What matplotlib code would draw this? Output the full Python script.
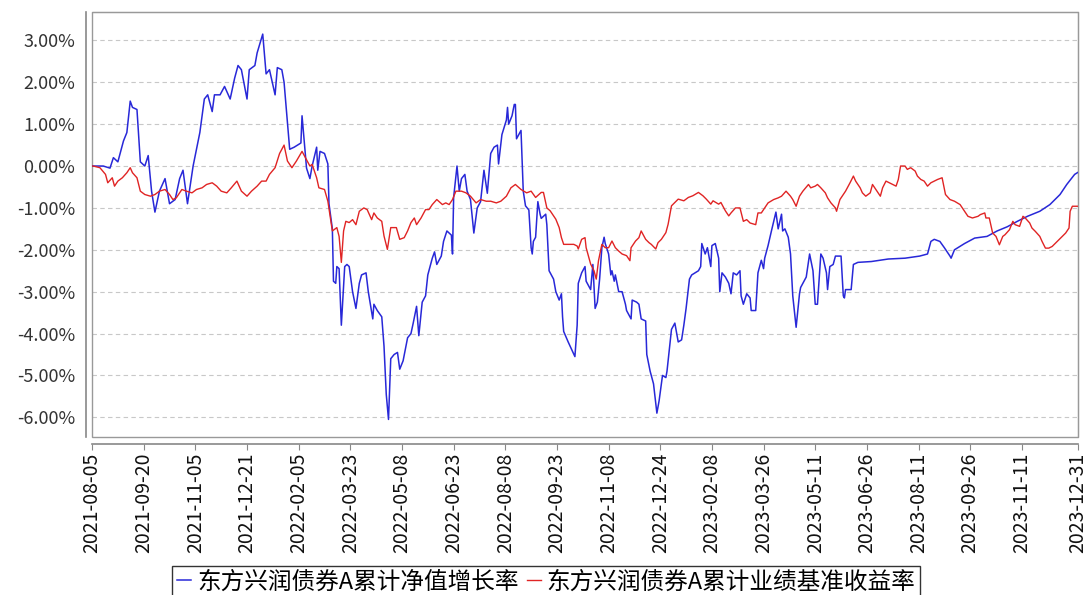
import numpy as np
import pandas as pd
import matplotlib
matplotlib.use("Agg")
import matplotlib.pyplot as plt
import matplotlib.dates as mdates
from matplotlib.ticker import FixedLocator
from matplotlib.patches import Rectangle

plt.rcParams['font.family'] = ['Noto Sans CJK SC', 'DejaVu Sans']

start = pd.Timestamp("2021-08-05")
end = pd.Timestamp("2023-12-31")

# --- datos (dias desde 2021-08-05, %) ---
blue_days = [0, 1, 10, 16, 19, 23, 28, 31, 34, 36, 40, 43, 47, 50, 53, 56, 60, 65, 69, 74,
             78, 81, 85, 90, 93, 96, 100, 103, 107, 109, 114, 118, 123, 127, 130, 133, 138, 140,
             145, 147, 152, 155, 158, 163, 165, 169, 171, 176, 180, 186, 187, 191, 194, 196, 200,
             201, 203, 207, 210, 211, 214, 215, 217, 218, 220, 222, 225, 227, 229, 232, 235, 238,
             240, 244, 246, 250, 251, 254, 258, 260, 262, 264, 266, 269, 272, 274, 277, 281, 284,
             286, 289, 291, 294, 297, 299, 303, 305, 307, 311, 313, 316, 320, 321, 322, 325, 327,
             329, 332, 334, 337, 340, 343, 346, 349, 352, 355, 358, 361, 362, 365, 369, 370, 371,
             374, 376, 377, 378, 382, 384, 386, 389, 391, 392, 393, 395, 397, 399, 400, 404, 405,
             407, 409, 411, 413, 416, 418, 419, 420, 424, 430, 432, 433, 436, 439, 440, 444, 446,
             448, 450, 452, 454, 456, 457, 460, 462, 463, 465, 466, 469, 472, 475, 476, 480, 481,
             485, 487, 489, 493, 494, 497, 500, 503, 505, 508, 511, 512, 516, 519, 522, 525, 527,
             529, 532, 534, 537, 540, 542, 543, 546, 548, 551, 552, 555, 558, 559, 561, 564, 567,
             569, 571, 574, 577, 578, 580, 583, 586, 587, 591, 593, 596, 598, 599, 602, 605, 609,
             611, 614, 615, 617, 620, 622, 624, 627, 630, 631, 636, 639, 642, 644, 646, 649, 651,
             654, 655, 657, 660, 662, 667, 669, 670, 671, 676, 678, 682, 694, 709, 724, 737, 744,
             747, 750, 755, 759, 764, 765, 768, 771, 777, 786, 797, 806, 815, 824, 833, 844, 853,
             862, 868, 875, 878]
blue_vals = [0.0, 0.0, 0.0, -0.05, 0.2, 0.1, 0.6, 0.8, 1.55, 1.4, 1.35, 0.1, 0.0, 0.25, -0.6, -1.1,
             -0.6, -0.3, -0.9, -0.8, -0.3, -0.1, -0.9, 0.0, 0.4, 0.8, 1.6, 1.7, 1.3, 1.7, 1.7, 1.9,
             1.6, 2.1, 2.4, 2.3, 1.6, 2.3, 2.4, 2.7, 3.15, 2.2, 2.3, 1.7, 2.35, 2.3, 2.0, 0.4, 0.45,
             0.55, 1.2, -0.05, -0.3, 0.0, 0.45, -0.1, 0.35, 0.3, 0.05, -0.9, -1.5, -2.75, -2.8, -2.4,
             -2.45, -3.8, -2.4, -2.35, -2.4, -3.0, -3.4, -2.8, -2.6, -2.55, -3.0, -3.65, -3.3, -3.45,
             -3.6, -4.3, -5.45, -6.05, -4.6, -4.5, -4.45, -4.85, -4.65, -4.1, -4.0, -3.75, -3.35,
             -4.05, -3.25, -3.1, -2.6, -2.2, -2.05, -2.35, -2.15, -1.8, -1.55, -1.65, -2.1, -0.75,
             0.0, -0.6, -0.3, -0.2, -0.6, -0.8, -1.6, -1.0, -0.85, -0.1, -0.65, 0.3, 0.45, 0.5, 0.05,
             0.75, 1.1, 1.4, 1.0, 1.2, 1.47, 1.47, 0.65, 0.85, -0.6, -0.95, -1.05, -1.95, -2.1, -1.8,
             -1.7, -0.85, -1.15, -1.25, -1.15, -1.4, -2.5, -2.6, -2.7, -3.0, -3.2, -3.05, -3.6, -3.95,
             -4.2, -4.55, -3.8, -2.8, -2.55, -2.4, -2.75, -2.95, -2.35, -3.4, -3.25, -2.7, -1.95, -1.7,
             -1.85, -2.1, -2.6, -2.5, -2.75, -2.6, -3.0, -3.0, -3.3, -3.45, -3.65, -3.2, -3.25, -3.3,
             -3.65, -3.7, -4.5, -4.9, -5.2, -5.9, -5.6, -5.0, -5.05, -4.9, -3.9, -3.75, -4.2, -4.15,
             -3.8, -3.4, -2.7, -2.6, -2.55, -2.5, -2.4, -1.85, -2.1, -1.95, -2.4, -1.9, -1.85, -2.2,
             -3.0, -2.55, -2.65, -2.8, -3.05, -2.55, -2.6, -2.5, -3.1, -3.3, -3.05, -3.15, -3.45,
             -3.45, -2.55, -2.25, -2.45, -2.2, -1.9, -1.55, -1.1, -1.5, -1.15, -1.55, -1.5, -1.7,
             -2.1, -3.1, -3.85, -3.05, -2.9, -2.65, -2.1, -2.5, -3.3, -3.3, -2.1, -2.2, -2.55, -2.95,
             -2.4, -2.35, -2.15, -2.15, -3.1, -3.15, -2.95, -2.95, -2.35, -2.3, -2.28, -2.22, -2.2,
             -2.15, -2.1, -1.8, -1.75, -1.8, -1.95, -2.15, -2.2, -2.0, -1.95, -1.85, -1.72, -1.68,
             -1.55, -1.45, -1.32, -1.2, -1.08, -0.92, -0.68, -0.44, -0.2, -0.15]

red_days = [0, 1, 7, 12, 14, 18, 20, 23, 27, 31, 34, 36, 40, 43, 47, 52, 56, 60, 65, 69, 72, 75,
            80, 84, 89, 93, 98, 102, 107, 111, 115, 120, 124, 129, 133, 138, 142, 147, 151, 155,
            158, 163, 167, 171, 174, 178, 182, 187, 191, 194, 196, 200, 202, 207, 210, 214, 218,
            220, 222, 224, 226, 229, 232, 235, 238, 242, 245, 249, 251, 254, 258, 260, 263, 266,
            271, 274, 278, 281, 284, 287, 289, 293, 297, 300, 303, 307, 312, 315, 318, 321, 324,
            329, 333, 337, 342, 346, 351, 355, 360, 364, 369, 373, 377, 382, 387, 391, 395, 400,
            402, 405, 408, 413, 416, 418, 420, 424, 429, 432, 433, 436, 439, 440, 444, 447, 449,
            451, 454, 457, 460, 463, 466, 469, 472, 476, 479, 480, 484, 487, 489, 493, 496, 498,
            502, 504, 507, 511, 513, 516, 519, 522, 527, 531, 535, 540, 544, 547, 551, 553, 558,
            560, 564, 567, 569, 573, 577, 580, 583, 586, 591, 593, 596, 599, 602, 607, 611, 614,
            618, 622, 624, 627, 630, 633, 638, 640, 644, 646, 649, 653, 655, 658, 662, 663, 666,
            669, 671, 675, 678, 680, 684, 686, 689, 693, 695, 698, 702, 704, 707, 710, 713, 716,
            718, 720, 724, 726, 729, 733, 735, 738, 741, 744, 747, 750, 753, 757, 760, 764, 768,
            773, 775, 777, 780, 784, 789, 791, 795, 796, 799, 802, 805, 808, 811, 813, 817, 820,
            822, 826, 829, 831, 835, 837, 840, 844, 846, 849, 852, 855, 858, 861, 864, 867, 870,
            871, 873, 876, 878]
red_vals = [0.0, 0.0, -0.04, -0.2, -0.4, -0.28, -0.48, -0.36, -0.28, -0.16, -0.04, -0.16, -0.28,
            -0.6, -0.68, -0.72, -0.68, -0.6, -0.56, -0.68, -0.8, -0.76, -0.56, -0.6, -0.64, -0.56,
            -0.52, -0.44, -0.4, -0.48, -0.6, -0.64, -0.52, -0.36, -0.6, -0.72, -0.6, -0.48, -0.36,
            -0.36, -0.2, -0.04, 0.3, 0.5, 0.12, -0.04, 0.12, 0.35, 0.15, 0.0, 0.04, -0.28, -0.52,
            -0.56, -0.84, -1.55, -1.47, -1.68, -2.3, -1.55, -1.32, -1.35, -1.28, -1.4, -1.08, -1.0,
            -1.04, -1.28, -1.12, -1.24, -1.32, -1.67, -1.99, -1.47, -1.47, -1.75, -1.71, -1.55,
            -1.35, -1.24, -1.4, -1.24, -1.04, -1.04, -0.92, -0.8, -0.92, -0.88, -0.92, -0.8, -0.6,
            -0.6, -0.64, -0.72, -0.88, -0.8, -0.84, -0.84, -0.88, -0.84, -0.72, -0.52, -0.44, -0.56,
            -0.64, -0.6, -0.75, -0.63, -0.63, -1.0, -1.07, -1.27, -1.47, -1.71, -1.87, -1.87, -1.87,
            -1.91, -1.98, -1.75, -1.71, -1.95, -2.34, -2.5, -2.7, -2.26, -1.87, -1.95, -1.95, -1.79,
            -1.95, -2.03, -2.1, -2.14, -2.26, -1.95, -1.79, -1.71, -1.55, -1.75, -1.83, -1.87, -1.98,
            -1.83, -1.75, -1.59, -1.39, -0.95, -0.87, -0.79, -0.83, -0.75, -0.71, -0.63, -0.71,
            -0.79, -0.91, -0.83, -0.91, -0.87, -1.07, -1.19, -1.12, -1.0, -1.0, -1.32, -1.28, -1.36,
            -1.4, -1.12, -1.12, -1.0, -0.88, -0.8, -0.76, -0.72, -0.6, -0.72, -0.8, -0.96, -0.72,
            -0.6, -0.44, -0.52, -0.48, -0.44, -0.52, -0.64, -0.76, -0.88, -1.0, -1.08, -0.8, -0.68,
            -0.6, -0.4, -0.24, -0.36, -0.52, -0.64, -0.72, -0.64, -0.44, -0.56, -0.72, -0.52, -0.36,
            -0.4, -0.44, -0.48, -0.32, 0.0, 0.0, -0.08, -0.04, -0.12, -0.24, -0.32, -0.36, -0.48,
            -0.4, -0.36, -0.32, -0.28, -0.68, -0.8, -0.84, -0.92, -1.0, -1.08, -1.2, -1.24, -1.2,
            -1.16, -1.12, -1.24, -1.24, -1.6, -1.68, -1.88, -1.68, -1.64, -1.52, -1.32, -1.4, -1.44,
            -1.2, -1.24, -1.36, -1.48, -1.56, -1.68, -1.8, -1.96, -1.96, -1.92, -1.84, -1.76, -1.68,
            -1.6, -1.48, -1.08, -0.96, -0.96, -0.96]

x_ticks = ["2021-08-05", "2021-09-20", "2021-11-05", "2021-12-21", "2022-02-05", "2022-03-23",
           "2022-05-08", "2022-06-23", "2022-08-08", "2022-09-23", "2022-11-08", "2022-12-24",
           "2023-02-08", "2023-03-26", "2023-05-11", "2023-06-26", "2023-08-11", "2023-09-26",
           "2023-11-11", "2023-12-31"]
y_ticks = [3, 2, 1, 0, -1, -2, -3, -4, -5, -6]

series_names = ["东方兴润债券A累计净值增长率", "东方兴润债券A累计业绩基准收益率"]


def main():
    blue_dates = start + pd.to_timedelta(blue_days, unit="D")
    red_dates = start + pd.to_timedelta(red_days, unit="D")

    fig = plt.figure(figsize=(10.88, 5.95), dpi=100)
    ax = fig.add_axes([0.0846, 0.2655, 0.9062, 0.7145])

    ax.plot(blue_dates, blue_vals, color="#2828d8", lw=1.1, label=series_names[0])
    ax.plot(red_dates, red_vals, color="#e02424", lw=1.0, label=series_names[1])

    ax.set_xlim(start, end)
    ax.set_ylim(-6.47, 3.68)

    ax.set_yticks(y_ticks)
    ax.set_yticklabels([f"{v:.2f}%" for v in y_ticks])
    ax.tick_params(axis="y", labelsize=13, labelcolor="#333333")
    tick_dates = pd.to_datetime(x_ticks)
    ax.xaxis.set_major_locator(FixedLocator(mdates.date2num(tick_dates)))
    ax.xaxis.set_major_formatter(mdates.DateFormatter("%Y-%m-%d"))
    ax.tick_params(axis="x", labelrotation=90, labelsize=14, labelcolor="#111111")

    ax.grid(axis="y", linestyle=(0, (4, 3)), color="#c8c8c8", lw=0.8)
    ax.set_axisbelow(True)

    # marco interior + ejes desplazados
    for s in ["top", "right"]:
        ax.spines[s].set_color("#999999")
    for s in ["left", "bottom"]:
        ax.spines[s].set_color("#888888")
        ax.spines[s].set_linewidth(1.2)
    ax.spines["left"].set_position(("outward", 4))
    ax.spines["bottom"].set_position(("outward", 5))
    ax.add_patch(Rectangle((0, 0), 1, 1, transform=ax.transAxes, fill=False,
                           edgecolor="#999999", lw=1.0, clip_on=False))
    ax.tick_params(axis="y", length=0, pad=8)
    ax.tick_params(axis="x", length=4, color="#888888", pad=2)

    leg = fig.legend(loc="upper center", bbox_to_anchor=(0.502, 0.049), ncol=2, fontsize=17,
                     handlelength=0.6, handletextpad=0.25, columnspacing=0.35, borderpad=0.2,
                     borderaxespad=0, frameon=True, fancybox=False, edgecolor="black")
    leg.get_frame().set_linewidth(1.0)

    fig.savefig("out.png", dpi=100)


if __name__ == "__main__":
    main()
